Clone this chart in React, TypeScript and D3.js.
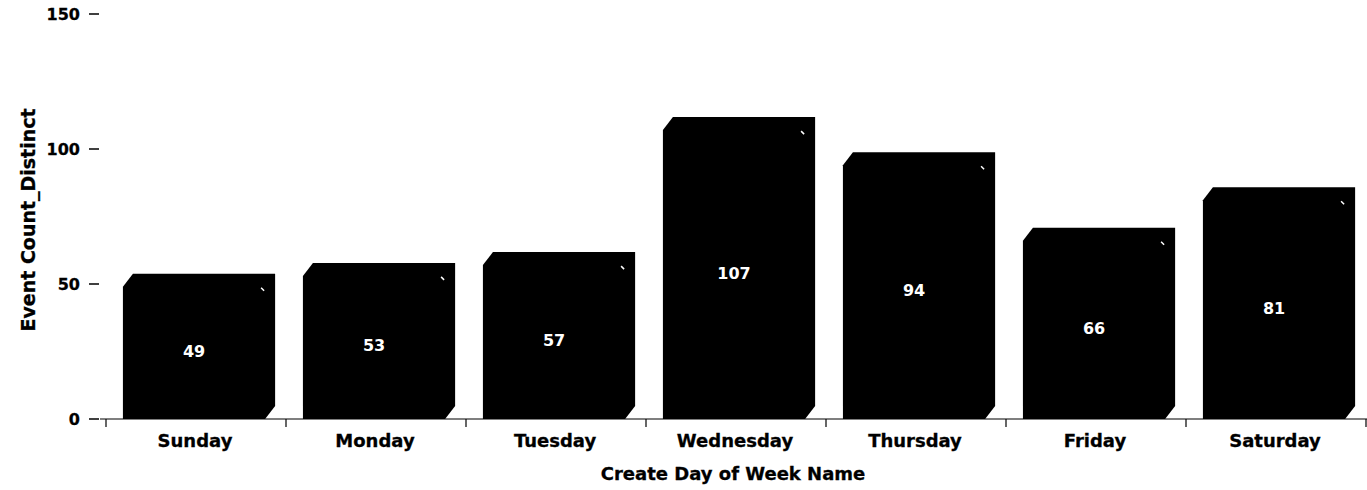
import React from "react";
import * as d3 from "d3";

const days = ["Sunday", "Monday", "Tuesday", "Wednesday", "Thursday", "Friday", "Saturday"];
const counts = [49, 53, 57, 107, 94, 66, 81];
const yTicks = [0, 50, 100, 150];
const xTitle = "Create Day of Week Name";
const yTitle = "Event Count_Distinct";

const W = 1367;
const H = 490;
const FONT = "'DejaVu Sans', Verdana, sans-serif";

export default function App() {
  const x = d3.scaleBand<string>().domain(days).range([106, 1366]);
  const y = d3.scaleLinear().domain([0, 150]).range([419, 14]);
  const bw = x.bandwidth();
  const padL = bw * 0.094;
  const fw = bw * 0.79;
  const dx = 10;
  const dy = 13;
  const y0 = y(0);

  const bars = days.map((d, i) => {
    const x0 = (x(d) as number) + padL;
    const x1 = x0 + fw;
    const yv = y(counts[i]);
    const path = d3.path();
    path.moveTo(x0, y0);
    path.lineTo(x0, yv);
    path.lineTo(x0 + dx, yv - dy);
    path.lineTo(x1 + dx, yv - dy);
    path.lineTo(x1 + dx, y0 - dy);
    path.lineTo(x1, y0);
    path.closePath();
    return { d, v: counts[i], x0, x1, yv, path: path.toString() };
  });

  const bandEdges = days.map((d) => x(d) as number).concat([x.range()[1]]);

  return (
    <svg
      width={W}
      height={H}
      style={{ position: "fixed", left: 0, top: 0, background: "#fff" }}
      fontFamily={FONT}
      fontWeight="bold"
    >
      {/* y ticks */}
      {yTicks.map((t) => (
        <g key={t}>
          <line x1={89} x2={99} y1={y(t)} y2={y(t)} stroke="#000" strokeWidth={1.5} />
          <text x={80} y={y(t) + 6} textAnchor="end" fontSize={16} fill="#000" stroke="#000" strokeWidth={0.3}>
            {t}
          </text>
        </g>
      ))}
      {/* x axis */}
      <line x1={100} x2={W} y1={y0} y2={y0} stroke="#000" strokeWidth={1.2} />
      {bandEdges.map((e, i) => (
        <line key={i} x1={e} x2={e} y1={y0} y2={y0 + 8} stroke="#000" strokeWidth={1.2} />
      ))}
      {/* bars */}
      {bars.map((b) => (
        <g key={b.d}>
          <path d={b.path} fill="#000" />
          <line x1={b.x1 - 4} y1={b.yv + 1} x2={b.x1 - 1} y2={b.yv + 4} stroke="#fff" strokeWidth={1.5} />
          <text
            x={(b.x0 + b.x1) / 2}
            y={(b.yv + y0) / 2 + 4}
            textAnchor="middle"
            fontSize={16}
            fill="#fff"
          >
            {b.v}
          </text>
        </g>
      ))}
      {/* category labels */}
      {days.map((d) => (
        <text
          key={d}
          x={(x(d) as number) + bw / 2 - 1}
          y={447}
          textAnchor="middle"
          fontSize={18}
          fill="#000"
          stroke="#000"
          strokeWidth={0.3}
        >
          {d}
        </text>
      ))}
      <text x={733} y={480} textAnchor="middle" fontSize={18} fill="#000" stroke="#000" strokeWidth={0.3}>
        {xTitle}
      </text>
      <text
        transform={`translate(35,220) rotate(-90)`}
        textAnchor="middle"
        fontSize={19}
        fill="#000"
        stroke="#000"
        strokeWidth={0.3}
      >
        {yTitle}
      </text>
    </svg>
  );
}
